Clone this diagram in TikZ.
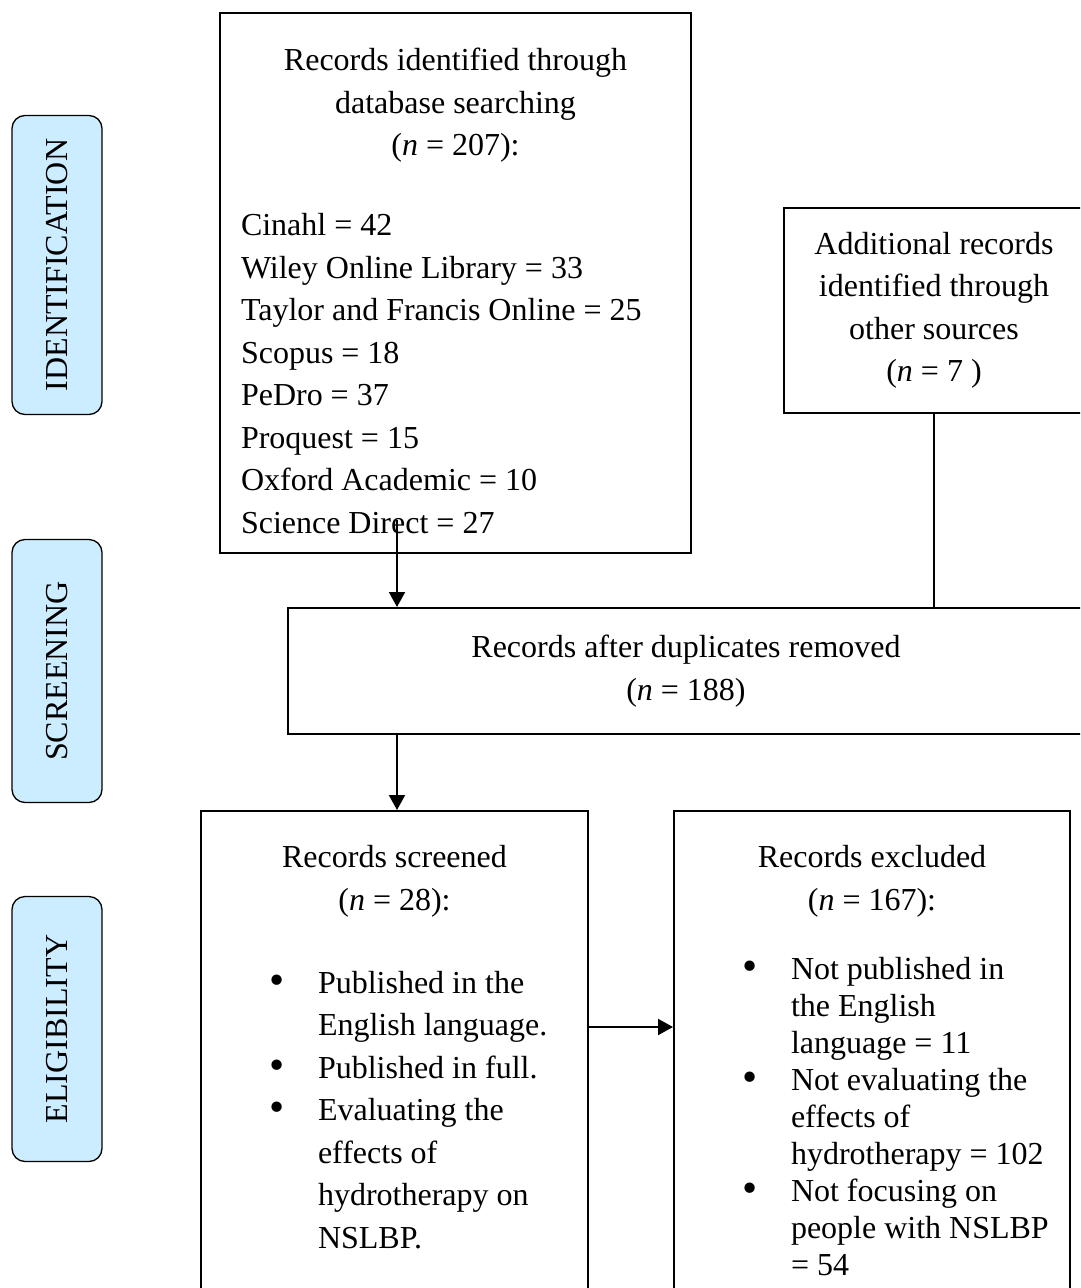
\documentclass[tikz,border=0pt]{standalone}
\usepackage{fontspec}
\setmainfont{Liberation Serif}
\usepackage{tikz}
\usetikzlibrary{calc}
\usetikzlibrary{arrows.meta,shapes}
\usetikzlibrary{positioning}
\definecolor{phaseblue}{RGB}{204,236,255}
\newcommand{\blt}{\par\noindent\llap{\raisebox{-1pt}{\scalebox{1.35}{\textbullet}}\hspace{33pt}}}

\begin{document}
\begin{tikzpicture}[x=1pt,y=-1pt,
    box/.style={draw,line width=2pt,anchor=north west,inner sep=0pt,font=\fontsize{32}{42.5}\selectfont},
    phase/.style={draw,line width=1.3pt,fill=phaseblue,rounded corners=13pt,rotate=90,minimum height=90pt,inner sep=0pt,font=\fontsize{32}{42.5}\selectfont},
    arr/.style={line width=2pt,-{Triangle[length=15pt,width=16pt]}},
    link/.style={line width=2pt}]
  \useasboundingbox (0,0) rectangle (1080,1288);
  \clip (0,0) rectangle (1080,1288);

  \node[phase,minimum width=299pt] (ident) at (57,265) {IDENTIFICATION};
  \node[phase,minimum width=263pt] (screen) at (57,671) {SCREENING};
  \node[phase,minimum width=265pt] (elig) at (57,1029) {ELIGIBILITY};

  \node[box] (search) at (219,12) {\begin{minipage}[t][540pt][t]{471pt}
      \vspace*{28pt}\centering\strut Records identified through\\ database searching\\ (\textit{n} = 207):\par
      \vspace{37.5pt}
      \raggedright\leftskip=21pt
      Cinahl = 42\\ Wiley Online Library = 33\\ Taylor and Francis Online = 25\\ Scopus = 18\\
      PeDro = 37\\ Proquest = 15\\ Oxford Academic = 10\\ Science Direct = 27\par
    \end{minipage}};
  \node[box,minimum width=300pt,minimum height=205pt,align=center] (addl) at (783,207)
    {Additional records\\ identified through\\ other sources\\ (\textit{n} = 7 )};
  \node[box,minimum width=796pt,minimum height=126pt,align=center] (dupl) at (287,607)
    {Records after duplicates removed\\ (\textit{n} = 188)};

  \node[box] (screened) at (200,810) {\begin{minipage}[t][540pt][t]{387pt}
      \vspace*{27pt}\centering\strut Records screened\\ (\textit{n} = 28):\par
      \vspace{40.5pt}
      \raggedright\leftskip=117pt
      \blt Published in the\\ English language.
      \blt Published in full.
      \blt Evaluating the\\ effects of\\ hydrotherapy on\\ NSLBP.\par
    \end{minipage}};
  \node[box] (excluded) at (673,810) {\begin{minipage}[t][540pt][t]{396pt}
      \vspace*{27pt}\centering\strut Records excluded\\ (\textit{n} = 167):\par
      \vspace{32pt}
      \fontsize{32}{37}\selectfont\raggedright\leftskip=117pt
      \blt Not published in\\ the English\\ language = 11
      \blt Not evaluating the\\ effects of\\ hydrotherapy = 102
      \blt Not focusing on\\ people with NSLBP\\ = 54\par
    \end{minipage}};

  \coordinate (tailA) at (397,520);
  \draw[arr] (tailA) -- (tailA |- dupl.north);
  \draw[link] (addl.south) -- (addl.south |- dupl.north);
  \draw[arr] (dupl.south -| tailA) -- (screened.north -| tailA);
  \draw[arr] ($(screened.north east)+(0,217)$) -- ($(excluded.north west)+(0,217)$);
\end{tikzpicture}
\end{document}
